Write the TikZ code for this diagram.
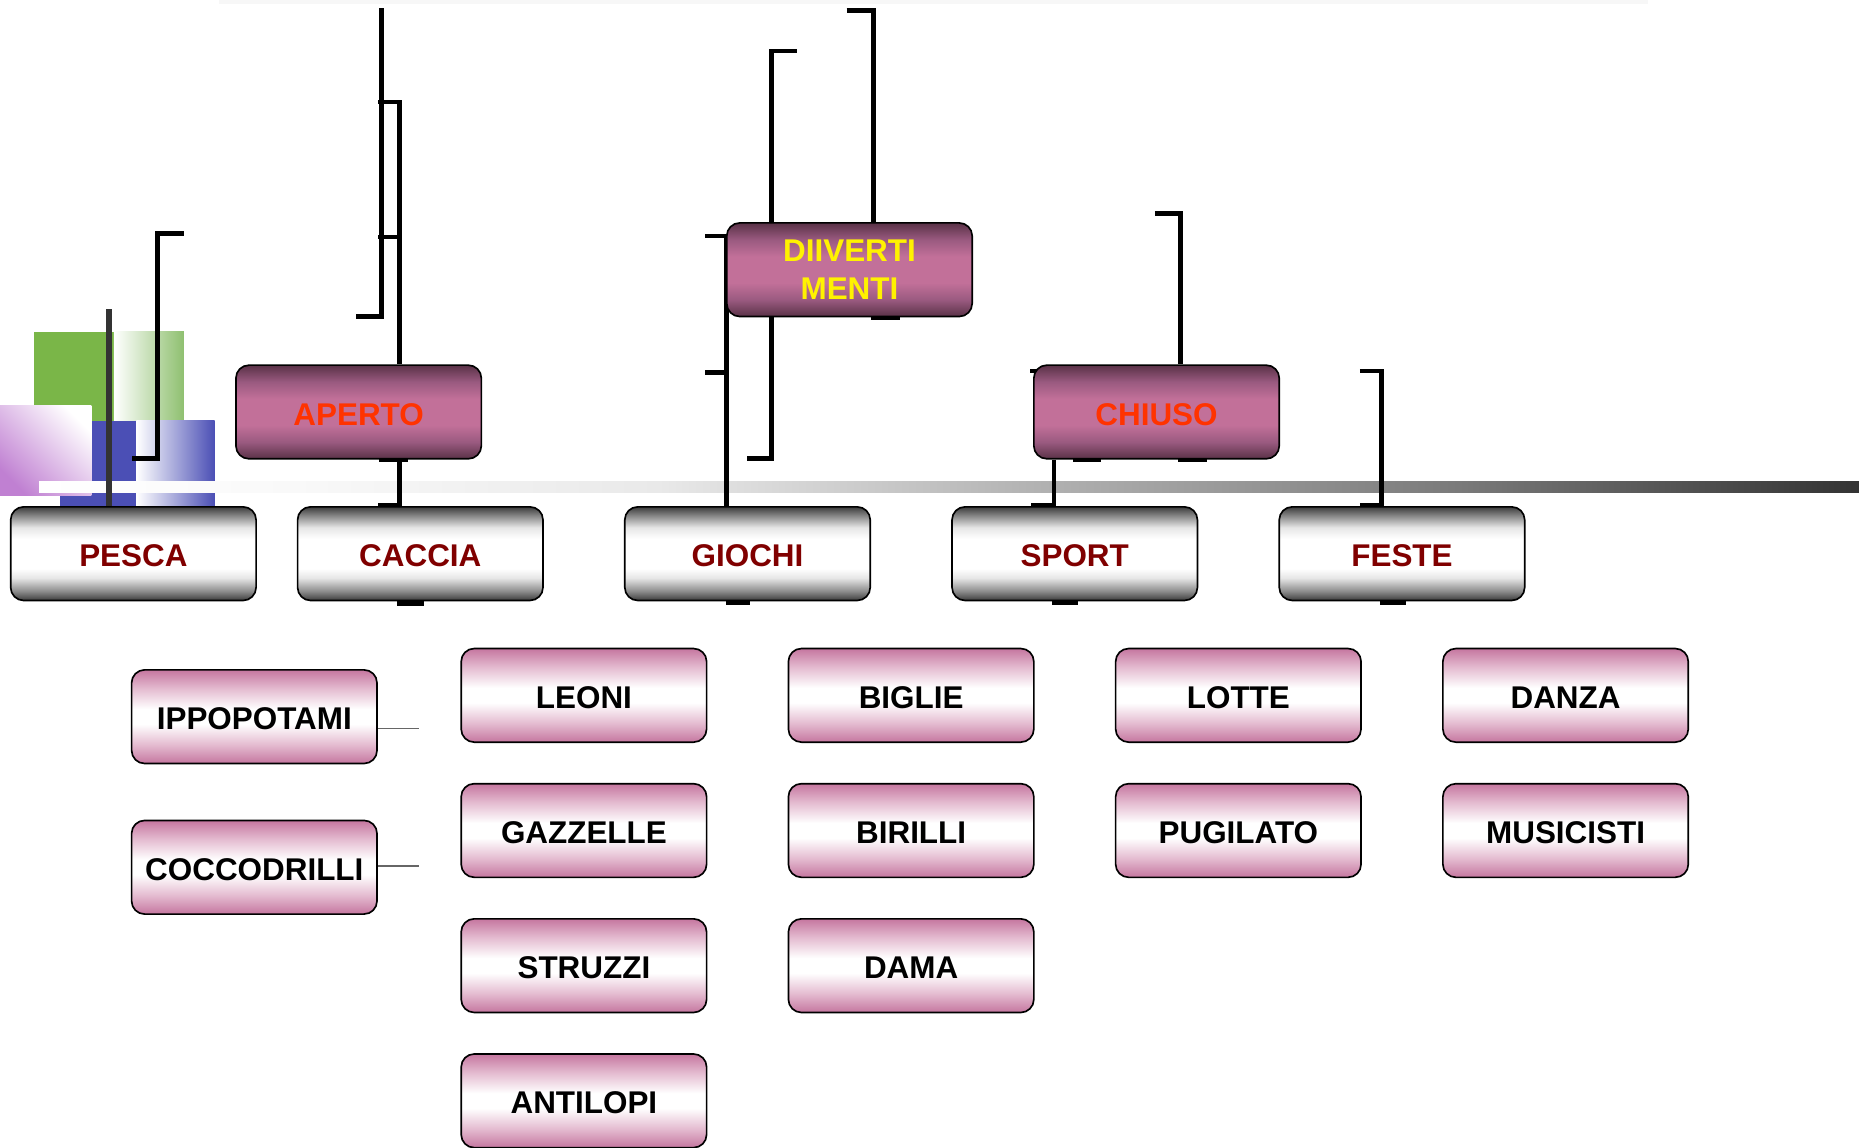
\documentclass[tikz,border=0pt]{standalone}
\usepackage{fontspec}
\setmainfont{Liberation Sans}
\usetikzlibrary{calc}
\pgfdeclarelayer{deco}
\pgfdeclarelayer{lines}
\pgfsetlayers{deco,lines,main}

\definecolor{dkm}{HTML}{5A3247}
\definecolor{mdm2}{HTML}{9A5A80}
\definecolor{mdm}{HTML}{C27099}
\definecolor{pnk}{HTML}{C5769F}
\definecolor{pnkl}{HTML}{E4BBD0}
\definecolor{gdk}{HTML}{3C3C3C}
\definecolor{gmd}{HTML}{8C8C8C}
\definecolor{gl}{HTML}{E6E6E6}
\definecolor{topred}{HTML}{FF3300}
\definecolor{midred}{HTML}{800000}
\definecolor{decgreen}{HTML}{7AB648}
\definecolor{decgreenl}{HTML}{8FC070}
\definecolor{decblue}{HTML}{4B4FB5}
\definecolor{decpurple}{HTML}{C080D2}
\definecolor{bA}{HTML}{F9F9F9}
\definecolor{bB}{HTML}{E9E9E9}
\definecolor{bC}{HTML}{B4B4B4}
\definecolor{bD}{HTML}{7A7A7A}
\definecolor{bE}{HTML}{333333}

\pgfdeclareverticalshading{mauveshade}{100bp}{color(0bp)=(dkm); color(25bp)=(dkm); color(34bp)=(mdm2); color(43bp)=(mdm); color(57bp)=(mdm); color(66bp)=(mdm2); color(75bp)=(dkm); color(100bp)=(dkm)}
\pgfdeclareverticalshading{greyshade}{100bp}{color(0bp)=(gdk); color(25bp)=(gdk); color(30bp)=(gmd); color(37bp)=(gl); color(42bp)=(white); color(58bp)=(white); color(64bp)=(gl); color(70bp)=(gmd); color(75bp)=(gdk); color(100bp)=(gdk)}
\pgfdeclareverticalshading{pinkshade}{100bp}{color(0bp)=(pnk); color(25bp)=(pnk); color(35bp)=(pnkl); color(46bp)=(white); color(54bp)=(white); color(65bp)=(pnkl); color(75bp)=(pnk); color(100bp)=(pnk)}
\pgfdeclarehorizontalshading{barshade}{100bp}{color(0bp)=(white); color(25bp)=(white); color(32bp)=(bA); color(42bp)=(bB); color(52bp)=(bC); color(64bp)=(bD); color(75bp)=(bE); color(100bp)=(bE)}

\begin{document}
\begin{tikzpicture}[x=1pt,y=-1pt,
  box/.style={draw=black, line width=1.4pt, rounded corners=11pt, minimum width=207pt, minimum height=79pt, inner sep=0pt, font=\bfseries\fontsize{26.5}{32}\selectfont, align=center, shade},
  oneline/.style={text height=22pt, text depth=0pt},
  topbox/.style={box, shading=mauveshade, text=topred},
  midbox/.style={box, oneline, shading=greyshade, text=midred},
  leafbox/.style={box, oneline, shading=pinkshade, text=black},
  conn/.style={line width=4pt, black, line join=miter},
  thinconn/.style={line width=1.1pt, black!60}]

\useasboundingbox (0,0) rectangle (1568,968);

% nodes
\node[topbox, oneline] (aperto) at (302.5,347.5) {APERTO};
\node[topbox, text=yellow] (div) at (716.5,227.5) {DIIVERTI\\MENTI};
\node[topbox, oneline] (chiuso) at (975.5,347.5) {CHIUSO};
\node[midbox] (pesca) at (112.5,467) {PESCA};
\node[midbox] (caccia) at (354.5,467) {CACCIA};
\node[midbox] (giochi) at (630.5,467) {GIOCHI};
\node[midbox] (sport) at (906.5,467) {SPORT};
\node[midbox] (feste) at (1182.5,467) {FESTE};
\node[leafbox] (ippo) at (214.5,604.5) {IPPOPOTAMI};
\node[leafbox] (cocco) at (214.5,731.5) {COCCODRILLI};
\node[leafbox] (leoni) at (492.5,586.5) {LEONI};
\node[leafbox] (gazz) at (492.5,700.5) {GAZZELLE};
\node[leafbox] (struzzi) at (492.5,814.5) {STRUZZI};
\node[leafbox] (antilopi) at (492.5,928.5) {ANTILOPI};
\node[leafbox] (biglie) at (768.5,586.5) {BIGLIE};
\node[leafbox] (birilli) at (768.5,700.5) {BIRILLI};
\node[leafbox] (dama) at (768.5,814.5) {DAMA};
\node[leafbox] (lotte) at (1044.5,586.5) {LOTTE};
\node[leafbox] (pugilato) at (1044.5,700.5) {PUGILATO};
\node[leafbox] (danza) at (1320.5,586.5) {DANZA};
\node[leafbox] (musicisti) at (1320.5,700.5) {MUSICISTI};

% decoration
\begin{pgfonlayer}{deco}
  \fill[black!3] (185,0) rectangle (1390,3);
  \fill[decgreen] (29,280) rectangle (96,355);
  \shade[left color=white, right color=decgreenl] (96,280) rectangle (155,355);
  \fill[decblue] (51,355) rectangle (115,427);
  \shade[left color=white, right color=decblue] (115,355) rectangle (181,427);
  \shade[top color=white, bottom color=decpurple, shading angle=-45] (0,342) rectangle (77,418);
  \shade[shading=barshade] (33,406) rectangle (1568,415);
\end{pgfonlayer}

% connectors
\begin{pgfonlayer}{lines}
  \draw[line width=4.5pt, black!80] (92,261) -- (92,427);
  % pesca bracket
  \coordinate (p1) at (155,197);
  \coordinate (p2) at (111,387);
  \draw[conn] (p1) -- ++(-22,0) |- (p2);
  % aperto
  \coordinate (a1) at (322,7);
  \coordinate (a2) at (300,267);
  \draw[conn] (a1) |- (a2);
  \coordinate (a3) at (319,86);
  \coordinate (a4) at (337,200);
  \coordinate (a5) at (319,200);
  \draw[conn] (a3) -| (aperto.north -| a4);
  \draw[conn] (a5) -- (a4);
  \draw[conn] (aperto.south -| a4) -- (caccia.north -| a4);
  % diverti
  \coordinate (d1) at (714,9);
  \coordinate (d1x) at (736.5,0);
  \draw[conn] (d1) -| (div.north -| d1x);
  \coordinate (d2) at (672,43);
  \coordinate (d3) at (630,387);
  \draw[conn] (d2) -- ++(-21,0) |- (d3);
  % giochi
  \coordinate (g1) at (595,199);
  \coordinate (g1x) at (613,0);
  \coordinate (g2) at (595,314);
  \draw[conn] (g1) -| (giochi.north -| g1x);
  \draw[conn] (g2) -- (g2 -| g1x);
  % chiuso
  \coordinate (c1) at (974,180);
  \coordinate (c1x) at (996,0);
  \draw[conn] (c1) -| (chiuso.north -| c1x);
  \coordinate (c2x) at (889,0);
  \draw[conn] (chiuso.south -| c2x) -- (sport.north -| c2x);
  % feste
  \coordinate (f1) at (1147,313);
  \coordinate (f1x) at (1165,0);
  \draw[conn] (f1) -| (feste.north -| f1x);
  % stubs
  \foreach \xa/\xb/\yy in {320/344/388, 319/337/426, 335/358/509, 735/759/268, 612/633/508,
      869/876/313, 905/929/388, 994/1018/388, 870/889/426, 887/909/508, 1147/1165/426, 1164/1186/508}
    \draw[conn] (\xa,\yy) -- (\xb,\yy);
  % thin lines
  \draw[thinconn] ([yshift=-10pt]ippo.east) -- ++(35,0);
  \draw[thinconn] ([yshift=1pt]cocco.east) -- ++(35,0);
\end{pgfonlayer}
\end{tikzpicture}
\end{document}
